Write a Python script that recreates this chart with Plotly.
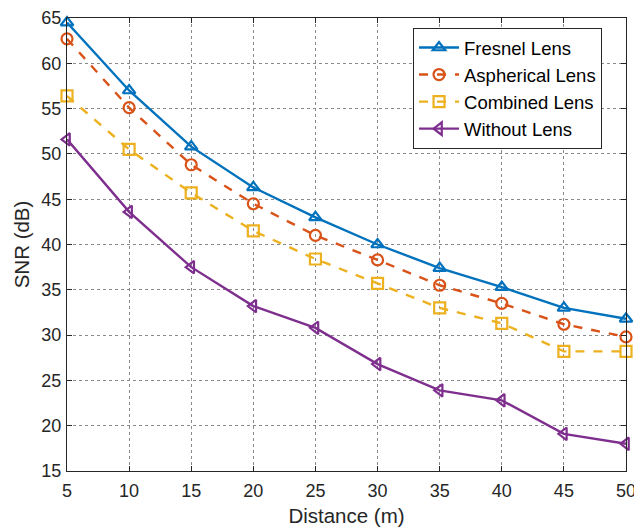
import plotly.graph_objects as go

distance = [5, 10, 15, 20, 25, 30, 35, 40, 45, 50]
fresnel = [64.5, 57.0, 50.8, 46.3, 43.0, 40.0, 37.4, 35.3, 33.0, 31.8]
aspherical = [62.7, 55.1, 48.8, 44.5, 41.0, 38.3, 35.5, 33.5, 31.2, 29.8]
combined = [56.4, 50.5, 45.7, 41.5, 38.4, 35.7, 33.0, 31.3, 28.2, 28.2]
without = [51.6, 43.6, 37.5, 33.2, 30.8, 26.8, 23.9, 22.8, 19.1, 18.0]

series = [
    ("Fresnel Lens", fresnel, "#0072BD", "solid", "triangle-up-open"),
    ("Aspherical Lens", aspherical, "#D95319", "dash", "circle-open"),
    ("Combined Lens", combined, "#EDB120", "dash", "square-open"),
    ("Without Lens", without, "#7E2F8E", "solid", "triangle-left-open"),
]

fig = go.Figure()
for name, vals, color, dash, sym in series:
    fig.add_trace(go.Scatter(
        x=distance, y=vals, name=name, mode="lines+markers",
        line=dict(color=color, width=2.4, dash=dash),
        marker=dict(symbol=sym, size=11, color=color, line=dict(width=2.2, color=color)),
        cliponaxis=False,
    ))

axis_common = dict(
    showline=True, linecolor="#262626", linewidth=1, mirror="allticks",
    ticks="inside", ticklen=5, tickcolor="#262626",
    showgrid=True, gridcolor="#8a8a8a", griddash="dot", gridwidth=1,
    zeroline=False, tickfont=dict(size=18, color="#262626"),
    automargin=False,
)
fig.update_xaxes(range=[5, 50], dtick=5, tick0=5, ticklabelstandoff=3,
                 title=dict(text="Distance (m)", font=dict(size=20.5, color="#262626"), standoff=9),
                 **axis_common)
fig.update_yaxes(range=[15, 65], dtick=5, ticklabelstandoff=1,
                 title=dict(text="SNR (dB)", font=dict(size=20.5, color="#262626"), standoff=6),
                 **axis_common)

fig.update_layout(
    width=634, height=522,
    margin=dict(l=59, r=16, t=10, b=59),
    paper_bgcolor="white", plot_bgcolor="white",
    font=dict(family="Liberation Sans, Arial, sans-serif", color="#262626"),
    legend=dict(x=0.619, y=0.978, xanchor="left", yanchor="top",
                bgcolor="white", bordercolor="#262626", borderwidth=1,
                font=dict(size=18.5, color="#000000"), tracegroupgap=0,
                itemwidth=40),
    showlegend=True,
)

fig.write_html("out.html")
